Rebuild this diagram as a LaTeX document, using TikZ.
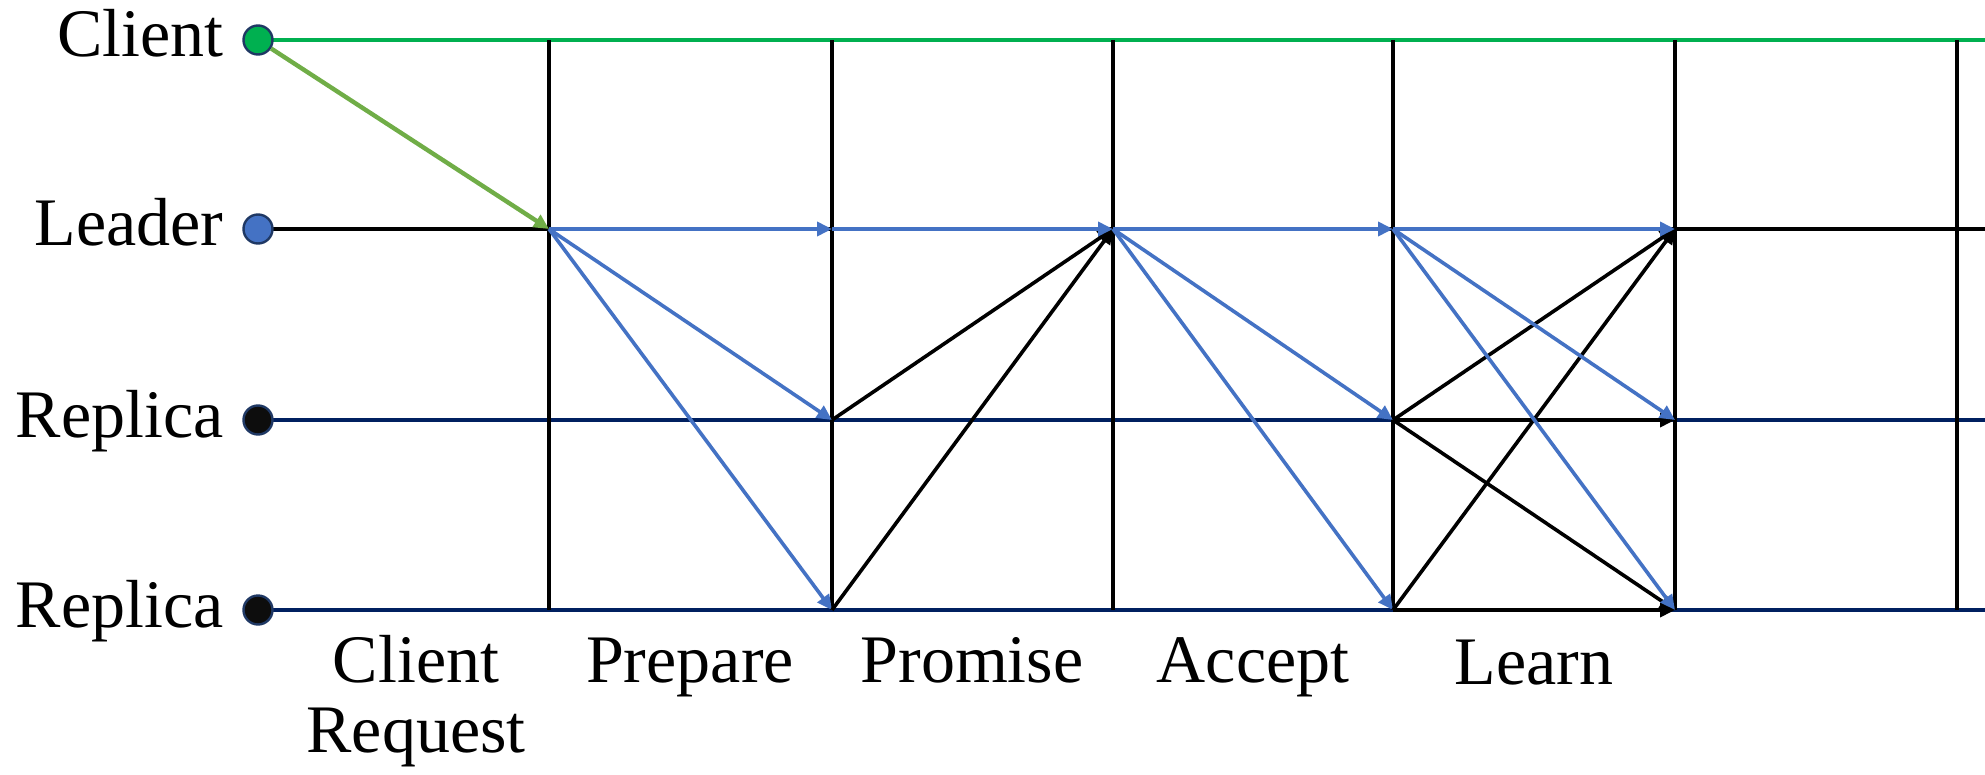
\documentclass[tikz,border=0pt]{standalone}
\usepackage{fontspec}
\setmainfont{Liberation Serif}
\usetikzlibrary{arrows.meta}
\definecolor{cgreen}{HTML}{00B050}
\definecolor{agreen}{HTML}{70AD47}
\definecolor{ablue}{HTML}{4472C4}
\definecolor{navy}{HTML}{002060}
\definecolor{dotedge}{HTML}{1F3864}
\definecolor{dotblack}{HTML}{0D0D0D}
\begin{document}
\begin{tikzpicture}[x=0.5pt,y=-0.5pt,
  lbl/.style={font=\fontsize{34}{36}\selectfont, inner sep=0pt},
  dotnode/.style={circle, minimum size=14.5pt, inner sep=0pt, draw=dotedge, line width=1.2pt},
  lane/.style={line width=1.65pt},
  gridline/.style={line width=1.65pt, black},
  msg/.style={line width=1.8pt, -{Triangle[length=7.5pt,width=7pt]}},
  bluemsg/.style={msg, ablue},
  blackmsg/.style={msg, black},
  greenmsg/.style={msg, agreen, line width=2.2pt}]
\useasboundingbox (0,0) rectangle (1985,775);

% right ends
\coordinate (eC) at (1985,40);
\coordinate (eL) at (1985,229);
\coordinate (eR1) at (1985,420);
\coordinate (eR2) at (1985,610);

% grid points
\foreach \i/\x in {1/549,2/832,3/1113,4/1393,5/1675,6/1957}{
  \coordinate (C\i) at (\x,40);
  \coordinate (L\i) at (\x,229);
  \coordinate (R\i) at (\x,420);
  \coordinate (S\i) at (\x,610);
}

% dot positions
\coordinate (pC) at (258,40);
\coordinate (pL) at (258,229);
\coordinate (pR1) at (258,420);
\coordinate (pR2) at (258,610);

% lanes
\draw[lane, cgreen] (pC) -- (eC);
\draw[lane, black] (pL) -- (eL);
\draw[lane, navy] (pR1) -- (eR1);
\draw[lane, navy] (pR2) -- (eR2);

% dots
\node[dotnode, fill=cgreen] (dC) at (pC) {};
\node[dotnode, fill=ablue] (dL) at (pL) {};
\node[dotnode, fill=dotblack] (dR1) at (pR1) {};
\node[dotnode, fill=dotblack] (dR2) at (pR2) {};

% left labels
\node[lbl, anchor=base east] (tC) at (224,57) {Client};
\node[lbl, anchor=base east] (tL) at (224,246) {Leader};
\node[lbl, anchor=base east] (tR1) at (224,437) {Replica};
\node[lbl, anchor=base east] (tR2) at (224,627) {Replica};

% verticals
\foreach \i in {1,...,6}{
  \draw[gridline] (C\i) -- (S\i);
}

% client request
\draw[greenmsg] (dC) -- (L1);

% prepare
\draw[bluemsg] (L1) -- (L2);
\draw[bluemsg] (L1) -- (R2);
\draw[bluemsg] (L1) -- (S2);

% promise
\draw[blackmsg] (R2) -- (L3);
\draw[blackmsg] (S2) -- (L3);
\draw[bluemsg] (L2) -- (L3);

% accept
\draw[bluemsg] (L3) -- (L4);
\draw[bluemsg] (L3) -- (R4);
\draw[bluemsg] (L3) -- (S4);

% learn
\draw[blackmsg] (R4) -- (L5);
\draw[blackmsg] (R4) -- (R5);
\draw[blackmsg] (R4) -- (S5);
\draw[blackmsg] (S4) -- (L5);
\draw[blackmsg] (S4) -- (S5);
\draw[bluemsg] (L4) -- (L5);
\draw[bluemsg] (L4) -- (R5);
\draw[bluemsg] (L4) -- (S5);

% phase labels
\node[lbl, anchor=base] (pc1) at (416,682) {Client};
\node[lbl, anchor=base] (pc2) at (416,752) {Request};
\node[lbl, anchor=base] (pp) at (690,682) {Prepare};
\node[lbl, anchor=base] (pr) at (972,682) {Promise};
\node[lbl, anchor=base] (pa) at (1253,682) {Accept};
\node[lbl, anchor=base] (pl) at (1534,684) {Learn};
\end{tikzpicture}
\end{document}
